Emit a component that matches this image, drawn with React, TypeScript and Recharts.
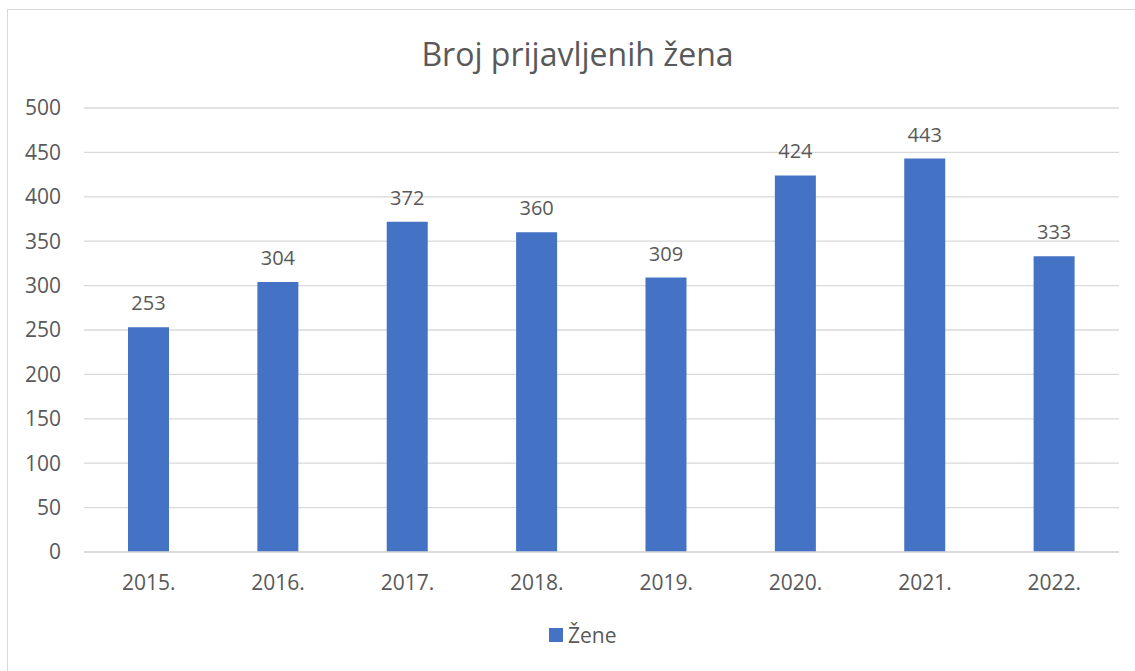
import React from 'react';
import { BarChart, Bar, XAxis, YAxis, CartesianGrid, LabelList } from 'recharts';

const years = ['2015.', '2016.', '2017.', '2018.', '2019.', '2020.', '2021.', '2022.'];
const zene = [253, 304, 372, 360, 309, 424, 443, 333];
const yTicks = [0, 50, 100, 150, 200, 250, 300, 350, 400, 450, 500];

const data = years.map((year, i) => ({ year, zene: zene[i] }));

const FONT = '"Open Sans", sans-serif';
const GREY = '#595959';

export default function App() {
  return (
    <div style={{ position: 'absolute', left: 0, top: 0, width: 1135, height: 671, background: '#fff', overflow: 'hidden' }}>
      <div style={{ position: 'absolute', left: 7, top: 9, width: 1135, height: 671, border: '1px solid #d9d9d9', boxSizing: 'border-box' }} />
      <div style={{ position: 'absolute', left: 0, top: 32, width: 1155, textAlign: 'center', fontFamily: FONT, fontSize: 32, color: GREY }}>
        Broj prijavljenih žena
      </div>
      <div style={{ position: 'absolute', left: 0, top: 0 }}>
        <BarChart width={1135} height={671} data={data} margin={{ top: 108, right: 16, bottom: 89, left: 0 }} barCategoryGap="34%">
          <CartesianGrid vertical={false} stroke="#d9d9d9" strokeWidth={1.3} />
          <XAxis dataKey="year" height={30} axisLine={{ stroke: '#d9d9d9', strokeWidth: 1.3 }} tickLine={false} tickSize={0} tickMargin={23} tick={{ fill: GREY, fontSize: 21, fontFamily: FONT }} />
          <YAxis width={84} domain={[0, 500]} ticks={yTicks} axisLine={false} tickLine={false} tickSize={0} tickMargin={23} tick={{ fill: GREY, fontSize: 21, fontFamily: FONT }} />
          <Bar dataKey="zene" name="Žene" fill="#4472c4" isAnimationActive={false}>
            <LabelList dataKey="zene" position="top" offset={17} fill={GREY} fontSize={20} fontFamily={FONT} />
          </Bar>
        </BarChart>
      </div>
      <div style={{ position: 'absolute', left: 549, top: 621, display: 'flex', alignItems: 'center', fontFamily: FONT, fontSize: 21, color: GREY }}>
        <span style={{ width: 14, height: 14, background: '#4472c4', display: 'inline-block', marginRight: 5 }} />
        <span>Žene</span>
      </div>
    </div>
  );
}
